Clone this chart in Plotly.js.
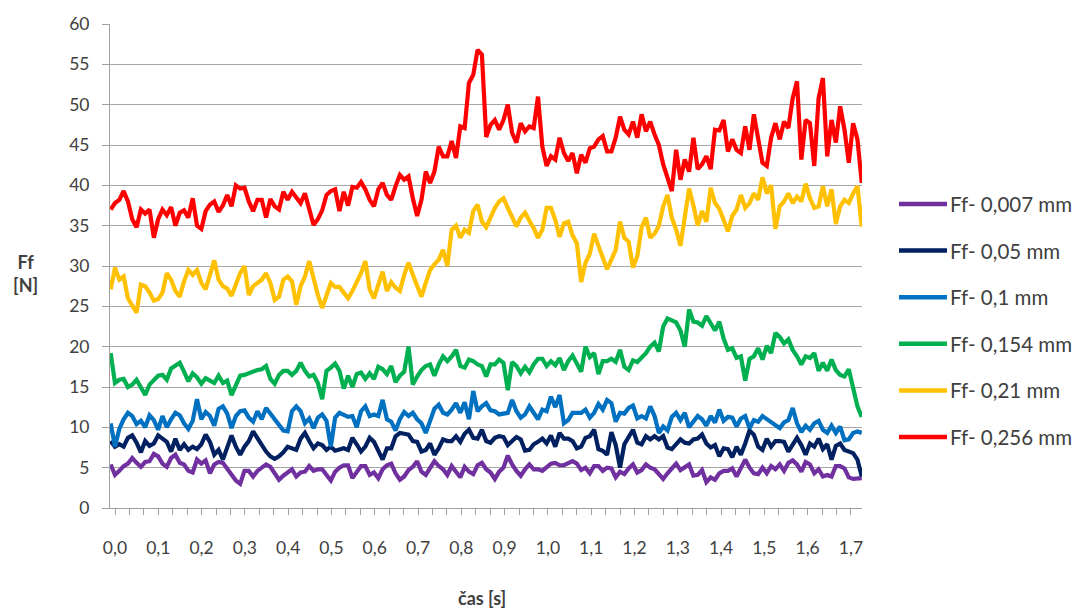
<!DOCTYPE html>
<html>
<head>
<meta charset="utf-8">
<script src="https://cdn.plot.ly/plotly-3.0.1.min.js"></script>
<style>html,body{margin:0;padding:0;background:#fff;}#chart{width:1081px;height:610px;}</style>
</head>
<body>
<div id="chart"></div>
<script>
// Sample grid (time, s): 175 samples from -0.01 s to 1.725 s
const tStart = -0.01, tEnd = 1.725, nSamples = 175;

const seriesNames = ["Ff- 0,007 mm", "Ff- 0,05 mm", "Ff- 0,1 mm", "Ff- 0,154 mm", "Ff- 0,21 mm", "Ff- 0,256 mm"];
const seriesColors = ["#7030A0", "#002060", "#0070C0", "#00B050", "#FFC000", "#FF0000"];

const ff_0007 = [5.4,4.1,4.6,5.2,5.5,6.2,5.6,5.1,5.7,5.8,6.7,6.4,5.5,5.1,6.2,6.6,5.6,5.4,4.6,4.4,6.0,5.5,5.9,4.3,5.4,5.7,5.6,4.9,4.2,3.4,3.0,4.6,4.6,3.9,4.6,5.0,5.4,5.1,4.2,3.5,4.0,4.4,4.8,3.9,4.4,4.5,5.2,4.6,4.8,4.8,4.0,3.4,4.5,5.0,5.3,5.3,
3.7,4.4,5.2,5.2,4.1,4.4,3.7,4.8,5.3,5.5,4.3,3.5,3.9,4.7,5.1,5.8,4.5,4.1,5.0,5.8,5.2,4.8,4.1,5.2,4.5,3.8,5.1,4.5,4.2,5.3,5.6,4.8,4.4,3.6,4.5,5.0,6.5,5.4,4.6,4.0,4.8,5.4,4.8,4.8,4.6,5.1,5.5,5.6,5.3,5.3,5.6,5.8,5.5,4.7,5.0,4.3,5.2,5.2,4.6,5.0,
4.9,3.8,4.5,4.2,4.9,5.4,4.4,4.7,5.4,5.0,4.8,4.1,3.6,4.3,5.0,5.5,4.7,5.0,5.4,4.0,4.1,4.7,3.2,3.8,3.5,4.3,4.6,4.6,4.9,3.9,4.9,6.0,5.0,4.3,4.2,5.0,4.3,5.2,4.8,5.4,4.6,5.6,5.9,5.4,4.5,5.7,5.4,4.3,4.8,3.9,4.1,3.9,5.2,5.2,4.9,3.8,3.6,3.7,3.7];

const ff_005 = [8.3,7.6,7.9,7.6,8.7,9.0,8.1,6.9,8.3,7.7,8.0,9.0,8.6,8.2,7.0,8.6,7.2,7.9,7.2,7.6,7.3,7.9,9.1,8.2,6.6,7.2,6.0,7.4,9.0,7.6,6.6,7.6,8.3,9.5,8.6,7.9,7.0,6.4,6.1,6.4,6.9,7.6,7.4,7.2,8.6,9.3,8.3,7.4,8.0,7.8,7.2,7.6,7.1,7.2,7.4,7.2,
8.7,7.9,7.0,7.6,8.7,8.2,7.1,6.0,7.4,7.4,8.9,9.3,9.2,9.1,8.3,8.2,7.0,7.2,8.0,6.6,7.4,8.5,8.3,8.3,8.9,8.2,9.2,9.7,8.7,8.6,9.7,8.3,8.1,8.7,8.9,8.8,7.8,8.3,8.8,8.5,7.1,7.2,7.9,8.2,8.6,8.0,9.0,7.6,9.3,8.6,8.6,8.3,7.4,7.6,8.7,8.9,9.7,7.3,7.1,6.6,
9.4,7.8,5.0,7.9,8.8,9.7,8.1,7.9,8.9,8.5,8.9,8.5,8.9,7.5,7.3,8.0,8.5,8.1,8.0,8.5,8.6,9.1,8.0,7.5,7.8,6.4,7.4,7.3,6.3,7.6,6.6,8.0,9.6,9.1,7.6,7.2,8.6,7.6,8.3,8.3,8.2,7.0,7.8,8.7,7.8,6.6,8.0,7.6,8.6,7.3,7.9,6.0,7.7,8.0,7.2,7.0,6.8,6.0,3.9];

const ff_01 = [10.5,7.6,9.8,11.0,11.8,11.4,10.4,10.8,10.0,11.5,10.9,9.7,11.4,10.0,11.0,11.8,11.5,10.5,9.8,10.8,13.5,11.0,11.9,11.4,10.2,12.3,12.6,11.7,9.9,11.4,12.0,12.1,11.2,10.7,12.0,11.0,12.4,11.7,11.1,10.4,9.6,9.5,12.0,12.6,12.0,10.5,11.1,9.9,11.2,11.6,10.8,7.6,11.2,11.8,11.6,11.3,
11.4,10.0,12.0,12.6,11.4,11.6,11.4,13.4,11.0,10.7,9.6,11.0,11.9,11.4,11.8,11.0,10.5,9.3,10.8,12.3,12.8,11.8,11.6,12.2,13.0,11.8,13.1,11.0,14.5,12.0,12.6,13.0,12.1,12.0,11.6,11.7,11.8,13.4,12.0,11.2,11.6,12.6,11.9,11.0,12.2,12.0,13.8,12.5,14.0,10.5,10.9,11.8,11.8,11.8,12.2,11.2,11.8,12.9,12.2,13.4,
13.0,10.7,11.8,11.7,12.4,12.7,11.1,11.4,11.1,12.6,11.4,9.3,10.1,9.6,11.3,11.8,10.9,11.8,10.0,10.7,11.4,11.0,10.2,11.4,10.6,12.2,10.8,11.3,11.2,10.1,11.1,11.4,9.9,10.9,10.7,11.4,11.0,10.6,10.2,9.9,10.6,10.9,12.4,10.5,9.4,10.2,9.7,10.5,10.8,9.7,9.3,10.2,9.3,10.1,8.4,8.5,9.3,9.5,9.3];

const ff_0154 = [19.2,15.5,15.9,16.0,15.0,15.3,15.9,14.8,14.0,15.3,15.8,16.4,16.5,15.9,17.3,17.6,18.0,16.9,15.7,16.7,16.2,15.4,16.1,15.8,15.5,16.4,15.5,15.8,14.0,15.2,16.4,16.5,16.7,17.0,17.1,17.2,17.6,16.0,15.4,16.5,17.0,17.0,16.5,17.0,18.0,17.0,16.3,16.5,15.5,13.5,17.0,17.4,17.9,17.0,14.8,16.4,
15.0,16.6,16.8,16.0,16.7,16.0,17.5,17.2,16.6,17.6,15.6,16.4,16.9,20.0,15.3,16.3,17.1,17.6,17.8,16.4,17.8,18.8,18.2,18.8,19.6,17.6,17.4,18.4,18.2,17.8,17.6,16.3,17.8,17.8,18.4,18.0,14.6,18.1,17.6,16.7,17.5,16.8,17.8,18.5,18.5,17.6,18.2,17.7,18.6,17.1,18.2,18.9,17.8,16.9,20.0,18.7,19.2,16.6,18.2,18.2,
18.5,18.1,19.6,17.5,17.1,18.3,18.1,18.6,19.2,20.0,20.5,19.4,22.5,23.5,23.2,23.0,22.0,20.0,24.6,23.1,23.0,22.6,23.8,23.0,22.0,23.1,21.0,19.6,19.8,18.6,18.8,15.8,18.5,18.8,19.8,18.4,20.1,19.2,21.7,21.2,20.4,20.9,19.6,18.8,17.8,18.8,18.6,19.2,17.0,18.0,17.0,18.4,17.1,16.5,16.3,17.2,14.9,12.6,11.3];

const ff_021 = [27.1,29.8,28.3,28.7,26.0,25.0,24.2,27.7,27.5,26.7,25.7,25.9,26.7,29.1,28.3,26.9,26.2,28.1,29.5,28.9,29.5,27.9,27.1,28.9,30.7,28.3,27.5,27.2,26.3,27.7,29.1,30.0,26.4,27.5,27.9,28.3,29.1,27.9,25.8,26.2,28.3,28.7,28.1,25.2,27.5,28.7,30.6,28.3,26.4,24.8,26.4,27.9,27.4,27.4,26.7,26.0,
26.9,27.9,29.1,30.6,27.1,26.0,27.5,29.3,26.9,28.0,27.3,26.9,28.9,30.4,28.9,27.5,26.2,27.9,29.5,30.2,30.8,32.0,30.0,34.5,35.0,33.5,34.5,34.1,36.8,37.6,35.5,34.8,36.0,37.2,38.0,38.4,37.2,36.0,34.9,36.0,36.6,35.6,34.7,33.5,34.5,37.2,37.2,35.7,33.6,35.3,35.5,33.8,32.8,28.0,30.4,31.5,34.0,32.5,31.0,29.6,
30.8,32.0,35.5,33.5,33.0,29.8,31.2,34.8,36.0,33.5,34.0,35.0,37.4,38.8,36.0,34.5,32.5,36.2,39.6,37.5,35.0,36.8,35.5,39.7,37.8,37.1,35.5,34.3,36.2,37.0,38.8,37.2,37.8,39.0,38.2,41.0,39.0,40.0,34.6,37.4,38.0,39.0,37.8,38.6,38.0,40.2,38.4,37.2,37.4,39.9,37.4,39.5,35.2,37.4,38.2,37.8,39.0,39.9,34.9];

const ff_0256 = [37.0,37.8,38.2,39.3,38.0,35.8,34.8,37.0,36.5,37.0,33.5,35.8,37.0,36.3,37.3,35.0,36.6,36.9,36.0,38.4,35.0,34.6,36.8,37.6,38.0,36.7,37.5,38.8,37.4,40.0,39.6,39.7,38.0,36.8,38.2,38.2,36.0,38.3,37.4,37.0,39.2,38.2,39.2,38.5,37.8,39.0,36.8,35.1,35.8,36.9,38.8,39.3,39.5,36.8,39.2,37.5,
39.8,39.7,40.4,39.5,38.2,37.4,39.5,40.3,38.8,38.2,39.9,41.3,40.7,41.1,38.4,36.2,38.2,41.7,40.3,41.7,44.8,43.6,43.6,45.5,43.4,47.3,47.1,52.7,53.7,56.8,56.2,46.0,47.5,48.1,46.9,48.1,50.0,46.5,45.3,47.7,46.7,47.3,47.1,51.0,44.8,42.4,43.6,43.2,45.9,44.0,43.0,44.0,41.5,43.8,42.8,44.6,44.8,45.7,46.1,44.2,
44.2,45.9,48.5,46.9,46.3,47.9,45.9,48.8,46.7,47.9,46.3,45.0,42.6,40.9,39.3,44.4,40.7,43.2,41.7,45.9,42.0,42.6,43.6,42.0,46.9,46.8,48.1,44.2,45.7,44.4,44.0,47.3,44.4,48.8,45.7,42.8,42.4,45.9,47.7,45.7,47.9,47.1,50.8,52.9,43.2,48.1,47.7,42.4,50.8,53.3,43.6,48.1,45.3,49.8,46.9,42.8,47.7,45.7,40.3];

const allSeries = [ff_0007, ff_005, ff_01, ff_0154, ff_021, ff_0256];

// time axis values
const t = [];
for (let k = 0; k < nSamples; k++) t.push(tStart + k * (tEnd - tStart) / (nSamples - 1));

const xRange = [-0.01155, 1.72557];

const traces = allSeries.map((ys, i) => ({
  type: 'scatter', mode: 'lines', name: seriesNames[i],
  x: t.slice(0, ys.length), y: ys,
  line: {color: seriesColors[i], width: 4.2},
  hoverinfo: 'skip'
}));

// Legend built from series names / colours (drawn on paper coordinates)
const legTopPx = 204, legStepPx = 46.6, plotTop = 24, plotH = 484, plotLeft = 110, plotW = 752;
const shapes = [], annotations = [];
seriesNames.forEach((nm, i) => {
  const py = legTopPx + i * legStepPx;
  const yp = (plotTop + plotH - py) / plotH;
  shapes.push({type: 'line', xref: 'paper', yref: 'paper',
    x0: (899 - plotLeft) / plotW, x1: (947 - plotLeft) / plotW, y0: yp, y1: yp,
    line: {color: seriesColors[i], width: 4.5}});
  annotations.push({xref: 'paper', yref: 'paper', x: (948 - plotLeft) / plotW, y: yp,
    xanchor: 'left', yanchor: 'middle', showarrow: false, text: nm,
    font: {family: 'Lato, sans-serif', size: 20.5, color: '#404040'}});
});
annotations.push({xref: 'paper', yref: 'paper', x: (25 - plotLeft) / plotW, y: (plotTop + plotH - 273) / plotH,
  xanchor: 'center', yanchor: 'middle', showarrow: false, text: '<b>Ff</b><br><b>[N]</b>',
  font: {family: 'Lato, sans-serif', size: 18, color: '#404040'}});
annotations.push({xref: 'paper', yref: 'paper', x: (482 - plotLeft) / plotW, y: (plotTop + plotH - 598) / plotH,
  xanchor: 'center', yanchor: 'middle', showarrow: false, text: '<b>čas [s]</b>',
  font: {family: 'Lato, sans-serif', size: 18, color: '#404040'}});

const layout = {
  width: 1081, height: 610,
  margin: {l: 110, r: 219, t: 24, b: 102, pad: 0},
  paper_bgcolor: '#ffffff', plot_bgcolor: '#ffffff',
  separators: ', ',
  showlegend: false,
  font: {family: 'Lato, sans-serif', size: 17, color: '#404040'},
  xaxis: {
    range: xRange, tick0: 0, dtick: 0.1, tickformat: '.1f',
    ticks: 'outside', ticklen: 6, tickcolor: '#a0a0a0', tickwidth: 1,
    showgrid: false, zeroline: false,
    showline: true, linecolor: '#a0a0a0', linewidth: 1,
    ticklabelstandoff: 18,
    tickfont: {family: 'Lato, sans-serif', size: 17.5, color: '#404040'},
    minor: {ticks: 'outside', ticklen: 6, tickcolor: '#a0a0a0', tickwidth: 1,
            tick0: 0, dtick: 0.1 / 3, showgrid: false}
  },
  yaxis: {
    range: [0, 60], tick0: 0, dtick: 5,
    ticks: 'outside', ticklen: 7, tickcolor: '#a0a0a0', tickwidth: 1,
    showgrid: true, gridcolor: '#a6a6a6', gridwidth: 1, zeroline: false,
    showline: true, linecolor: '#a0a0a0', linewidth: 1,
    ticklabelstandoff: 9,
    tickfont: {family: 'Lato, sans-serif', size: 17.5, color: '#404040'}
  },
  shapes: shapes,
  annotations: annotations
};

Plotly.newPlot('chart', traces, layout, {staticPlot: true, displayModeBar: false});
</script>
</body>
</html>
